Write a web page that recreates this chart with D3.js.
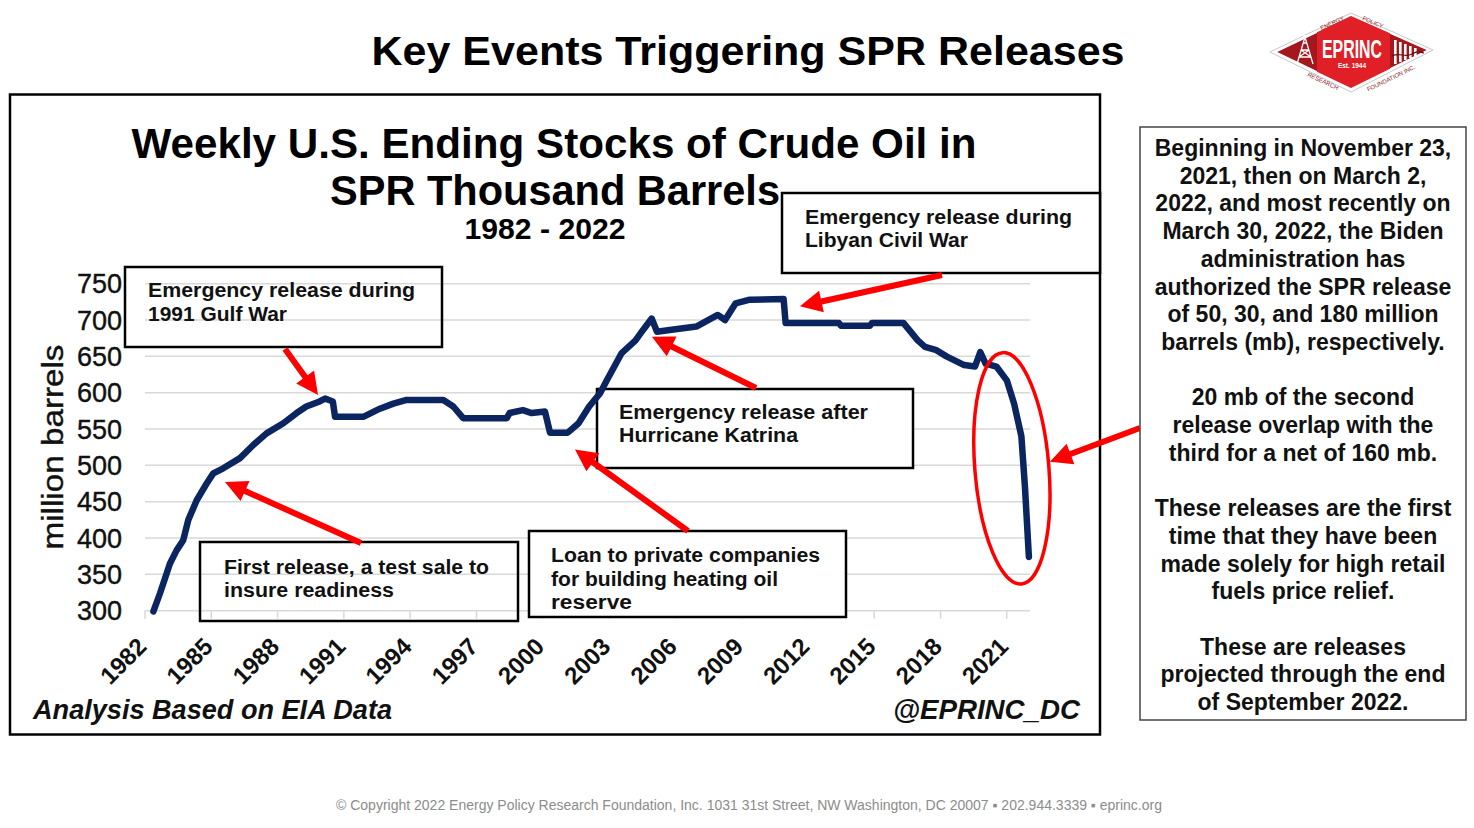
<!DOCTYPE html>
<html>
<head>
<meta charset="utf-8">
<script src="https://cdn.jsdelivr.net/npm/d3@7"></script>
<style>
  html, body { margin: 0; padding: 0; background: #ffffff; }
  svg { display: block; font-family: "Liberation Sans", Arial, sans-serif; }
</style>
</head>
<body>
<svg id="chart" width="1474" height="828"></svg>
<script>
// ---------------- DATA ----------------
const years = [1982.38, 1982.68, 1983.13, 1983.43, 1983.73, 1983.96, 1984.34, 1984.79, 1985.09, 1985.54,
  1986.3, 1986.9, 1987.5, 1988.26, 1988.86, 1989.3, 1989.9, 1990.15, 1990.5, 1990.6,
  1991.9, 1992.63, 1993.24, 1993.84, 1995.5, 1995.95, 1996.4, 1998.37, 1998.5, 1999.1,
  1999.5, 2000.1, 2000.33, 2001.13, 2001.62, 2002.1, 2002.59, 2002.9, 2003.56, 2004.2,
  2004.53, 2004.93, 2005.17, 2005.66, 2006.95, 2007.92, 2008.25, 2008.73, 2009.37, 2010.9,
  2010.99, 2013.4, 2013.5, 2014.8, 2014.9, 2016.32, 2016.97, 2017.3, 2017.78, 2018.27,
  2019.07, 2019.56, 2019.8, 2020.04, 2020.53, 2021.0, 2021.33, 2021.66, 2021.82, 2022.0];
const stocks = [299, 324, 365, 383, 397, 425, 452, 475, 489, 496,
  510, 528, 544, 558, 572, 581, 588, 592, 588, 567,
  567, 578, 585, 590, 590, 581, 565, 565, 572, 576,
  572, 574, 545, 545, 558, 581, 599, 617, 654, 672,
  686, 702, 684, 686, 691, 707, 700, 723, 728, 729,
  696, 696, 692, 692, 696, 696, 672, 663, 659, 650,
  638, 636, 656, 640, 636, 617, 585, 540, 471, 374];
const yTicks = [300, 350, 400, 450, 500, 550, 600, 650, 700, 750];
const xTicks = [1982, 1985, 1988, 1991, 1994, 1997, 2000, 2003, 2006, 2009, 2012, 2015, 2018, 2021];

const pageTitle = "Key Events Triggering SPR Releases";
const chartTitle = ["Weekly U.S. Ending Stocks of Crude Oil in", "SPR Thousand Barrels", "1982 - 2022"];
const yLabel = "million  barrels";
const sourceNote = "Analysis Based on EIA Data";
const handle = "@EPRINC_DC";
const footer = "\u00A9 Copyright 2022 Energy Policy Research Foundation, Inc. 1031 31st Street, NW Washington, DC 20007 \u25AA 202.944.3339 \u25AA eprinc.org";

// annotation texts and the data point each arrow points to
const noteLines = [
  ["Emergency release during", "1991  Gulf War"],
  ["First release, a test sale to", "insure readiness"],
  ["Emergency release during", "Libyan Civil War"],
  ["Emergency release after", "Hurricane Katrina"],
  ["Loan to private companies", "for building heating oil", "reserve"]
];
const noteTipYear = [1989.83, 1985.62, 2011.64, 2004.94, 2001.46];
const noteTipValue = [597, 477, 719, 677, 522];

const sideText = [
  "Beginning in November 23,", "2021, then on March 2,", "2022, and most recently on",
  "March 30, 2022, the Biden", "administration has", "authorized the SPR release",
  "of 50, 30, and 180 million", "barrels (mb), respectively.", "",
  "20 mb of the second", "release overlap with the", "third for a net of 160 mb.", "",
  "These releases are the first", "time that they have been", "made solely for high retail",
  "fuels price relief.", "",
  "These are releases", "projected through the end", "of September 2022."
];

// ---------------- LAYOUT ----------------
const svg = d3.select("#chart");
const FONT = '"Liberation Sans", Arial, sans-serif';

const x = d3.scaleLinear().domain([1982, 2022.05]).range([145, 1030]);
const y = d3.scaleLinear().domain([300, 750]).range([610.7, 283.7]);

function txt(g, px, py, s, o) {
  o = o || {};
  const t = g.append("text").attr("x", px).attr("y", py).text(s)
    .attr("font-family", FONT)
    .attr("font-size", o.size || 16)
    .attr("font-weight", o.weight || "normal")
    .attr("font-style", o.style || "normal")
    .attr("fill", o.fill || "#000")
    .attr("text-anchor", o.anchor || "start");
  if (o.len) t.attr("textLength", o.len).attr("lengthAdjust", "spacingAndGlyphs");
  if (o.transform) t.attr("transform", o.transform);
  return t;
}

// page title
txt(svg, 748, 65, pageTitle, {size: 40, weight: "bold", anchor: "middle", len: 753});

// ---------------- LOGO ----------------
const logo = svg.append("g");
logo.append("polygon").attr("points", "1270,52 1351,13 1433,50 1351,92")
  .attr("fill", "none").attr("stroke", "#c8c8c8").attr("stroke-width", 1);
logo.append("polygon").attr("points", "1276,52 1351,16 1428,50 1351,88")
  .attr("fill", "#a3171d").attr("stroke", "#ffffff").attr("stroke-width", 1.2);
logo.append("polygon").attr("points", "1317,32.3 1351,16 1390,33.2 1390,68.8 1351,88 1317,71.7")
  .attr("fill", "#e01f26");
// derrick
const der = logo.append("g").attr("stroke", "#ffffff").attr("stroke-width", 1.3).attr("fill", "none");
der.append("path").attr("d", "M1297,64 L1305,37 L1313,64 M1299,57 L1311,57 M1301,50 L1309,50 M1303,43 L1307,43 M1299,57 L1309,50 M1311,57 L1301,50 M1303,36 L1307,36");
// bars on right
const bars = logo.append("g").attr("fill", "#ffffff");
[1394, 1399, 1404, 1409, 1414].forEach((bx, i) => {
  bars.append("rect").attr("x", bx).attr("y", 40 + i * 2).attr("width", 2.6).attr("height", 24 - i * 4);
});
logo.append("path").attr("d", "M1392,56 C1400,52 1405,58 1412,54 S1420,52 1424,53")
  .attr("stroke", "#6b0c10").attr("stroke-width", 1.2).attr("fill", "none");
txt(logo, 1352, 58, "EPRINC", {size: 26, weight: "bold", anchor: "middle", fill: "#ffffff", len: 60});
txt(logo, 1352, 68, "Est. 1944", {size: 6.5, weight: "bold", anchor: "middle", fill: "#ffffff"});
txt(logo, 1333, 25, "ENERGY", {size: 6, anchor: "middle", fill: "#8a1a1e", transform: "rotate(-25,1333,25)"});
txt(logo, 1372, 24, "POLICY", {size: 6, anchor: "middle", fill: "#8a1a1e", transform: "rotate(24,1372,24)"});
txt(logo, 1322, 83, "RESEARCH", {size: 6, anchor: "middle", fill: "#8a1a1e", transform: "rotate(25,1322,83)"});
txt(logo, 1392, 80, "FOUNDATION INC.", {size: 6, anchor: "middle", fill: "#8a1a1e", transform: "rotate(-26,1392,80)"});

// ---------------- CHART FRAME ----------------
svg.append("rect").attr("x", 10).attr("y", 94.5).attr("width", 1090).attr("height", 640)
  .attr("fill", "#ffffff").attr("stroke", "#000").attr("stroke-width", 2.5);

txt(svg, 554, 158, chartTitle[0], {size: 42, weight: "bold", anchor: "middle", len: 845});
txt(svg, 555, 205, chartTitle[1], {size: 42, weight: "bold", anchor: "middle", len: 450});
txt(svg, 545, 239, chartTitle[2], {size: 30, weight: "bold", anchor: "middle", len: 161});

// gridlines
const grid = svg.append("g");
grid.selectAll("line.g").data(yTicks).join("line")
  .attr("x1", x(1982)).attr("x2", x(2022.05))
  .attr("y1", d => y(d)).attr("y2", d => y(d))
  .attr("stroke", "#d9d9d9").attr("stroke-width", 1.5);
grid.selectAll("line.t").data(xTicks).join("line")
  .attr("x1", d => x(d)).attr("x2", d => x(d))
  .attr("y1", y(300)).attr("y2", y(300) + 8)
  .attr("stroke", "#d9d9d9").attr("stroke-width", 1.5);

// y tick labels
svg.append("g").selectAll("text").data(yTicks).join("text")
  .attr("x", 122).attr("y", d => y(d)).attr("dy", "0.36em")
  .attr("text-anchor", "end").attr("font-family", FONT).attr("font-size", 27)
  .attr("font-weight", "normal").attr("fill", "#111").attr("stroke", "#111").attr("stroke-width", 0.4)
  .text(d => d);

// x tick labels
svg.append("g").selectAll("text").data(xTicks).join("text")
  .attr("transform", d => `translate(${x(d) + 3},648) rotate(-45)`)
  .attr("text-anchor", "end").attr("font-family", FONT).attr("font-size", 24)
  .attr("font-weight", "bold").attr("fill", "#111")
  .text(d => d);

// y axis label
txt(svg, 0, 0, yLabel, {size: 30, anchor: "middle", len: 205, fill: "#111",
  transform: "translate(63,447) rotate(-90)"}).attr("stroke", "#111").attr("stroke-width", 0.4);

txt(svg, 33, 719, sourceNote, {size: 28, weight: "bold", style: "italic", len: 359, fill: "#111"});
txt(svg, 1080, 719, handle, {size: 28, weight: "bold", style: "italic", anchor: "end", len: 187, fill: "#111"});

// ---------------- ANNOTATION BOXES ----------------
// [left, top, width, height, filled, textX, firstBaseline, lineStep, widths]
const boxGeom = [
  [125, 267, 317, 80, false, 148, 297, 24, [267, 139]],
  [200, 542, 318, 79, false, 224, 574, 23, [265, 170]],
  [782, 193, 318, 80, true, 805, 224, 23, [267, 163]],
  [597, 389, 316, 79, true, 619, 419, 23, [249, 179]],
  [529, 531, 317, 86, true, 551, 562, 23.5, [269, 227, 81]]
];
const boxes = svg.append("g");
boxGeom.forEach((b, i) => {
  boxes.append("rect").attr("x", b[0]).attr("y", b[1]).attr("width", b[2]).attr("height", b[3])
    .attr("fill", b[4] ? "#ffffff" : "none").attr("stroke", "#000").attr("stroke-width", 2.5);
  noteLines[i].forEach((ln, j) => {
    txt(boxes, b[5], b[6] + j * b[7], ln, {size: 20, weight: "bold", len: b[8][j], fill: "#111"});
  });
});

// ---------------- DATA LINE ----------------
const pts = years.map((yr, i) => [yr, stocks[i]]);
svg.append("path").datum(pts)
  .attr("d", d3.line().x(d => x(d[0])).y(d => y(d[1])))
  .attr("fill", "none").attr("stroke", "#0b2560").attr("stroke-width", 6.5)
  .attr("stroke-linejoin", "round").attr("stroke-linecap", "round");

// ---------------- ARROWS ----------------
function arrow(g, x1, y1, x2, y2) {
  const dx = x2 - x1, dy = y2 - y1, L = Math.hypot(dx, dy);
  const ux = dx / L, uy = dy / L, nx = -uy, ny = ux;
  const H = 22, W = 11, s = 3;
  const bx = x2 - ux * H, by = y2 - uy * H;
  const p = [
    [x1 + nx * s, y1 + ny * s], [bx + nx * s, by + ny * s], [bx + nx * W, by + ny * W],
    [x2, y2], [bx - nx * W, by - ny * W], [bx - nx * s, by - ny * s], [x1 - nx * s, y1 - ny * s]
  ];
  g.append("polygon").attr("points", p.map(q => q.join(",")).join(" ")).attr("fill", "#ff0000");
}
const tails = [[285, 349], [361, 543], [942, 275], [756, 388], [688, 531]];
const arrows = svg.append("g");
tails.forEach((t, i) => arrow(arrows, t[0], t[1], x(noteTipYear[i]), y(noteTipValue[i])));

// ellipse around the 2021-2022 releases
svg.append("ellipse")
  .attr("cx", x(2021.23)).attr("cy", y(496)).attr("rx", 37).attr("ry", 116)
  .attr("transform", `rotate(-4.7,${x(2021.23)},${y(496)})`)
  .attr("fill", "none").attr("stroke", "#ff0000").attr("stroke-width", 3.5);

// ---------------- SIDE TEXT BOX ----------------
svg.append("rect").attr("x", 1140).attr("y", 127).attr("width", 326).attr("height", 593)
  .attr("fill", "#ffffff").attr("stroke", "#444").attr("stroke-width", 1.5);
const side = svg.append("g");
sideText.forEach((ln, i) => {
  if (ln) txt(side, 1303, 156 + i * 27.7, ln, {size: 23, weight: "bold", anchor: "middle", fill: "#111"});
});
arrow(arrows, 1140, 428, x(2022.95), y(505));

// footer
txt(svg, 749, 810, footer, {size: 14, anchor: "middle", fill: "#8c8c8c"});
</script>
</body>
</html>
